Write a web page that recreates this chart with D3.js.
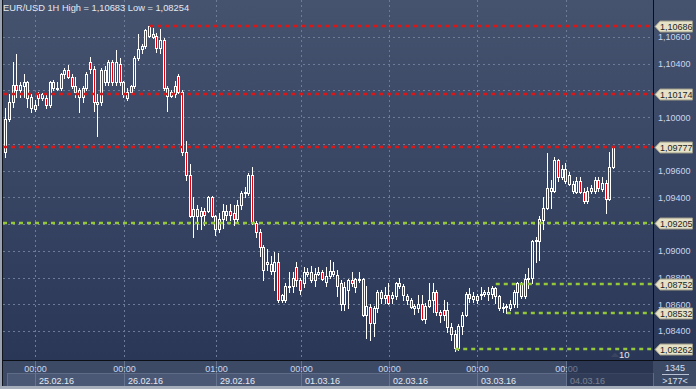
<!DOCTYPE html>
<html>
<head>
<meta charset="utf-8">
<script src="https://cdn.jsdelivr.net/npm/d3@7"></script>
<style>
  body { margin: 0; background: #2f3c5a; }
  svg { display: block; }
  text { font-family: "Liberation Sans", Arial, sans-serif; }
</style>
</head>
<body>
<div id="chart"></div>
<script>
// number of hourly slots visible on the screen
const slotCount = 177;

// EUR/USD 1H candles (slot 0 = 24.02 16:00)
const open = [
  1.0974,1.0999,1.1011,1.1024,1.1020,1.1023,1.1026,1.1015,1.1006,1.1017,
  1.1014,1.1014,1.1009,1.1026,1.1021,1.1022,1.1032,1.1035,1.1030,1.1023,
  1.1020,1.1015,1.1022,1.1041,1.1036,1.1010,1.1011,1.1035,1.1026,1.1041,
  1.1026,1.1040,1.1026,1.1014,1.1019,1.1023,1.1044,1.1051,1.1053,1.1068,
  1.1060,1.1061,1.1052,1.1058,1.1022,1.1019,1.1017,1.1031,1.1019,1.0974,
  1.0957,1.0926,1.0931,1.0926,1.0930,1.0930,1.0940,1.0926,1.0916,1.0924,
  1.0927,1.0930,1.0928,1.0924,1.0934,1.0943,1.0943,1.0957,1.0921,1.0914,
  1.0903,1.0890,1.0890,1.0885,1.0892,1.0863,1.0863,1.0873,1.0874,1.0888,
  1.0878,1.0876,1.0883,1.0884,1.0878,1.0883,1.0884,1.0877,1.0881,1.0885,
  1.0882,1.0876,1.0860,1.0871,1.0878,1.0873,1.0878,1.0879,1.0852,1.0858,
  1.0846,1.0857,1.0869,1.0865,1.0867,1.0865,1.0866,1.0876,1.0874,1.0866,
  1.0863,1.0857,1.0857,1.0860,1.0849,1.0859,1.0863,1.0869,1.0854,1.0856,
  1.0856,1.0843,1.0838,1.0827,1.0844,1.0852,1.0868,1.0864,1.0866,1.0867,
  1.0868,1.0868,1.0868,1.0872,1.0866,1.0857,1.0858,1.0857,1.0860,1.0869,
  1.0875,1.0866,1.0879,1.0880,1.0907,1.0907,1.0923,1.0932,1.0945,1.0945,
  1.0968,1.0955,1.0961,1.0957,1.0950,1.0944,1.0952,1.0944,1.0937,1.0945,
  1.0945,1.0953,1.0946,1.0951,1.0939,1.0963
];
const high = [
  1.1007,1.1017,1.1041,1.1047,1.1026,1.1032,1.1027,1.1017,1.1013,1.1019,
  1.1018,1.1017,1.1027,1.1028,1.1026,1.1033,1.1037,1.1039,1.1032,1.1030,
  1.1022,1.1023,1.1034,1.1045,1.1038,1.1017,1.1037,1.1038,1.1043,1.1043,
  1.1050,1.1044,1.1027,1.1022,1.1024,1.1046,1.1062,1.1055,1.1066,1.10683,
  1.1067,1.1063,1.1066,1.1059,1.1023,1.1020,1.1027,1.1032,1.1020,1.0982,
  1.0965,1.0940,1.0934,1.0933,1.0932,1.0941,1.0941,1.0927,1.0928,1.0935,
  1.0934,1.0935,1.0934,1.0938,1.0945,1.0948,1.0958,1.0963,1.0922,1.0916,
  1.0904,1.0901,1.0896,1.0899,1.0898,1.0868,1.0876,1.0884,1.0884,1.0892,
  1.0880,1.0888,1.0887,1.0889,1.0887,1.0888,1.0886,1.0888,1.0893,1.0892,
  1.0886,1.0878,1.0877,1.0879,1.0884,1.0880,1.0884,1.0880,1.0874,1.0860,
  1.0859,1.0871,1.0871,1.0873,1.0876,1.0869,1.0877,1.0880,1.0875,1.0868,
  1.0865,1.0860,1.0867,1.0867,1.0861,1.0876,1.0876,1.0871,1.0856,1.0863,
  1.0862,1.0846,1.0841,1.0845,1.0854,1.0869,1.0872,1.0869,1.0868,1.0873,
  1.0871,1.0873,1.0874,1.0873,1.0867,1.0861,1.0860,1.0863,1.0871,1.0877,
  1.0877,1.0883,1.0887,1.0908,1.0910,1.0926,1.0940,1.0973,1.0953,1.0970,
  1.0969,1.0964,1.0966,1.0959,1.0952,1.0955,1.0955,1.0947,1.0948,1.0949,
  1.0955,1.0955,1.0955,1.0953,1.0974,1.09785
];
const low = [
  1.0970,1.0997,1.1008,1.1015,1.1015,1.1015,1.1008,1.1004,1.1005,1.1009,
  1.1013,1.1007,1.1008,1.1020,1.1020,1.1020,1.1029,1.1029,1.1022,1.1015,
  1.1004,1.1011,1.1020,1.1033,1.1005,1.0986,1.1009,1.1024,1.1024,1.1024,
  1.1024,1.1024,1.1015,1.1013,1.1018,1.1022,1.1043,1.1048,1.1052,1.1060,
  1.1059,1.1049,1.1048,1.1020,1.1005,1.1015,1.1015,1.1018,1.0972,1.0953,
  1.0925,1.0910,1.0916,1.0916,1.0919,1.0929,1.0925,1.0912,1.0914,1.0917,
  1.0923,1.0923,1.0919,1.0922,1.0931,1.0940,1.0942,1.0920,1.0910,1.0896,
  1.0878,1.0886,1.0883,1.0871,1.0862,1.0862,1.0862,1.0869,1.0869,1.0874,
  1.0868,1.0873,1.0881,1.0877,1.0874,1.0882,1.0878,1.0874,1.0880,1.0881,
  1.0866,1.0856,1.0856,1.0857,1.0874,1.0869,1.0877,1.0851,1.0835,1.0833,
  1.0836,1.0854,1.0861,1.0861,1.0860,1.0861,1.0864,1.0872,1.0863,1.0860,
  1.0857,1.0853,1.0854,1.0848,1.0846,1.0858,1.0854,1.0852,1.0847,1.0848,
  1.0839,1.0833,1.08254,1.0826,1.0838,1.0851,1.0862,1.0862,1.0861,1.0864,
  1.0866,1.0863,1.0865,1.0861,1.0856,1.0854,1.08532,1.0856,1.0858,1.0858,
  1.0865,1.0865,1.0872,1.0876,1.0892,1.0893,1.0916,1.0931,1.0932,1.0944,
  1.0952,1.0954,1.0951,1.0949,1.0943,1.0943,1.0943,1.0936,1.0936,1.0943,
  1.0943,1.0945,1.0945,1.0928,1.0938,1.0962
];
const close = [
  1.0999,1.1011,1.1024,1.1020,1.1024,1.1026,1.1014,1.1007,1.1009,1.1014,
  1.1017,1.1009,1.1026,1.1022,1.1022,1.1032,1.1035,1.1030,1.1023,1.1019,
  1.1015,1.1022,1.1032,1.1036,1.1011,1.1011,1.1035,1.1026,1.1041,1.1026,
  1.1041,1.1026,1.1017,1.1019,1.1023,1.1044,1.1051,1.1053,1.1065,1.1061,
  1.1062,1.1052,1.1058,1.1022,1.1016,1.1016,1.1023,1.1019,1.0974,1.0957,
  1.0926,1.0931,1.0926,1.0930,1.0927,1.0940,1.0926,1.0916,1.0924,1.0930,
  1.0930,1.0927,1.0924,1.0934,1.0943,1.0944,1.0957,1.0921,1.0914,1.0903,
  1.0886,1.0892,1.0885,1.0892,1.0863,1.0867,1.0874,1.0874,1.0880,1.0878,
  1.0871,1.0884,1.0884,1.0878,1.0883,1.0884,1.0879,1.0881,1.0885,1.0883,
  1.0874,1.0860,1.0873,1.0878,1.0876,1.0879,1.0879,1.0852,1.0859,1.0846,
  1.0857,1.0869,1.0865,1.0867,1.0861,1.0867,1.0876,1.0874,1.0867,1.0863,
  1.0858,1.0859,1.0860,1.0849,1.0859,1.0863,1.0869,1.0854,1.0852,1.0852,
  1.0843,1.0838,1.0827,1.0844,1.0852,1.0868,1.0865,1.0866,1.0863,1.0868,
  1.0869,1.0869,1.0872,1.0866,1.0857,1.0858,1.0859,1.0860,1.0869,1.0876,
  1.0866,1.0879,1.0880,1.0907,1.0908,1.0924,1.0932,1.0947,1.0947,1.0968,
  1.0955,1.0961,1.0952,1.0950,1.0945,1.0952,1.0944,1.0937,1.0945,1.0947,
  1.0953,1.0947,1.0951,1.0939,1.0963,1.09777
];

// price scale labels
const priceTicks = [1.084, 1.086, 1.088, 1.090, 1.092, 1.094, 1.096, 1.098, 1.100, 1.102, 1.104, 1.106];

// time axis: slot of each day start, its time and date
const daySlots = [8, 32, 57, 80, 104, 128, 152];
const dayTimes = ["00:00", "00:00", "01:00", "00:00", "00:00", "00:00", "00:00"];
const dayDates = ["25.02.16", "26.02.16", "29.02.16", "01.03.16", "02.03.16", "03.03.16", "04.03.16"];

// support / resistance levels, and the slot where each one starts (null = whole chart)
const levelValues = [1.10686, 1.10174, 1.09777, 1.09205, 1.08752, 1.08532, 1.08262];
const levelFrom = [39, null, null, null, 133, 136, 122];
const levelKind = ["resistance", "resistance", "resistance", "support", "support", "support", "support"];

const titleText = "EUR/USD 1H High = 1,10683 Low = 1,08254";
const clockText = "1345";
const countText = ">177<";
const markerText = "10";

const width = 696;
const height = 389;
const plotLeft = 3;
const plotRight = 653;
const plotBottom = 360;

const comma = (v) => d3.format(".5f")(v).replace(".", ",");

const svg = d3.select('#chart')
  .append('svg')
  .attr('width', width)
  .attr('height', height);

const defs = svg.append('defs');
const grad = defs.append('linearGradient')
  .attr('id', 'bg')
  .attr('gradientUnits', 'userSpaceOnUse')
  .attr('x1', 0).attr('y1', 0).attr('x2', 0).attr('y2', plotBottom);
grad.append('stop').attr('offset', 0).attr('stop-color', '#46536f');
grad.append('stop').attr('offset', 1).attr('stop-color', '#2a3757');

defs.append('clipPath').attr('id', 'plotClip')
  .append('rect')
  .attr('x', plotLeft).attr('y', 0)
  .attr('width', plotRight - plotLeft).attr('height', plotBottom);

// scales
const xScale = d3.scaleBand()
  .domain(d3.range(slotCount))
  .range([4, 656]);
const bw = xScale.bandwidth();
const cx = (i) => xScale(i) + bw / 2;

const yScale = d3.scaleLinear()
  .domain([1.08183, 1.10877])
  .range([plotBottom, 0]);

// background
svg.append('rect')
  .attr('width', width).attr('height', plotBottom)
  .attr('fill', 'url(#bg)');

// left frame strip
svg.append('rect').attr('x', 0).attr('y', 0).attr('width', 2).attr('height', height).attr('fill', '#9aa2b1');
svg.append('rect').attr('x', 2).attr('y', 0).attr('width', 1).attr('height', height).attr('fill', '#10141c');

const plot = svg.append('g').attr('clip-path', 'url(#plotClip)');

// horizontal grid
plot.selectAll('line.hgrid')
  .data(priceTicks)
  .enter()
  .append('line')
    .attr('class', 'hgrid')
    .attr('x1', plotLeft).attr('x2', plotRight)
    .attr('y1', (d) => Math.round(yScale(d)) + 0.5)
    .attr('y2', (d) => Math.round(yScale(d)) + 0.5)
    .attr('stroke', '#6c7b98')
    .attr('stroke-dasharray', '2,3');

// vertical grid
plot.selectAll('line.vgrid')
  .data(daySlots)
  .enter()
  .append('line')
    .attr('class', 'vgrid')
    .attr('x1', (d) => Math.round(cx(d)) + 0.5)
    .attr('x2', (d) => Math.round(cx(d)) + 0.5)
    .attr('y1', 0).attr('y2', plotBottom)
    .attr('stroke', '#6c7b98')
    .attr('stroke-dasharray', '2,3');

// candles
const candles = d3.range(open.length).map((i) => ({
  i: i, o: open[i], h: high[i], l: low[i], c: close[i]
}));

const cg = plot.append('g');
candles.forEach((d) => {
  const left = Math.round(cx(d.i) - 1.5);
  const wx = left + 1.5;
  const top = Math.round(yScale(Math.max(d.o, d.c)));
  const bot = Math.round(yScale(Math.min(d.o, d.c)));
  const yh = Math.round(yScale(d.h));
  const yl = Math.round(yScale(d.l));
  // wick above and below the body
  if (yh < top) {
    cg.append('line').attr('x1', wx).attr('x2', wx).attr('y1', yh).attr('y2', top)
      .attr('stroke', '#ffffff').attr('stroke-width', 1);
  }
  if (yl > bot) {
    cg.append('line').attr('x1', wx).attr('x2', wx).attr('y1', bot).attr('y2', yl + 1)
      .attr('stroke', '#ffffff').attr('stroke-width', 1);
  }
  if (bot - top < 1) {
    cg.append('line').attr('x1', left).attr('x2', left + 3)
      .attr('y1', top + 0.5).attr('y2', top + 0.5)
      .attr('stroke', '#ffffff').attr('stroke-width', 1);
  } else {
    cg.append('rect')
      .attr('x', left + 0.5).attr('y', top + 0.5)
      .attr('width', 2).attr('height', bot - top)
      .attr('fill', d.c < d.o ? '#e8000b' : 'none')
      .attr('stroke', '#ffffff').attr('stroke-width', 1);
  }
});

// level lines
const levels = levelValues.map((v, k) => ({ v: v, from: levelFrom[k], kind: levelKind[k] }));
const levelColour = (kind) => kind === 'resistance' ? '#d81818' : '#94c83a';

plot.selectAll('line.level')
  .data(levels)
  .enter()
  .append('line')
    .attr('class', 'level')
    .attr('x1', (d) => d.from === null ? plotLeft : cx(d.from))
    .attr('x2', plotRight)
    .attr('y1', (d) => Math.round(yScale(d.v)))
    .attr('y2', (d) => Math.round(yScale(d.v)))
    .attr('stroke', (d) => levelColour(d.kind))
    .attr('stroke-width', 2.5)
    .attr('stroke-dasharray', '4,4');

// small marker at the bottom right of the plot
svg.append('path')
  .attr('d', 'M611,357 L615,352.5 L619,357 Z')
  .attr('fill', '#3b4560');
svg.append('text')
  .attr('x', 619).attr('y', 358)
  .attr('fill', '#e3e8f1')
  .style('font-size', '9.5px')
  .text(markerText);

// title
svg.append('text')
  .attr('x', 3).attr('y', 11)
  .attr('fill', '#e4e9f2')
  .style('font-size', '9.3px')
  .text(titleText);

// right price axis
svg.append('line')
  .attr('x1', plotRight + 0.5).attr('x2', plotRight + 0.5)
  .attr('y1', 0).attr('y2', height)
  .attr('stroke', '#0c0f16');

// a scale label sitting right under a level tag is covered by it, so it is left out
const tagYs = levelValues.map((v) => yScale(v));
const shownTicks = priceTicks.filter((t) => tagYs.every((ty) => Math.abs(yScale(t) - ty) > 6));

const axis = svg.append('g')
  .attr('transform', `translate(${plotRight + 1}, 0)`)
  .call(d3.axisRight(yScale).tickValues(shownTicks).tickSize(0).tickPadding(4).tickFormat(comma));
axis.select('.domain').remove();
axis.selectAll('text')
  .attr('fill', '#c9d7ef')
  .style('font-size', '9px')
  .style('font-family', '"Liberation Sans", Arial, sans-serif');

// level labels
const tags = svg.selectAll('g.tag')
  .data(levels)
  .enter()
  .append('g')
    .attr('class', 'tag')
    .attr('transform', (d) => `translate(0, ${Math.round(yScale(d.v)) + 0.5})`);
tags.append('path')
  .attr('d', 'M655,0 L660,-5.5 L692.5,-5.5 L692.5,5.5 L660,5.5 Z')
  .attr('fill', '#e6e2c8')
  .attr('stroke', '#9c9a86');
tags.append('text')
  .attr('x', 660).attr('y', 3.5)
  .attr('fill', '#1c1e24')
  .style('font-size', '9px')
  .text((d) => comma(d.v));

// time axis panel
svg.append('rect')
  .attr('x', plotLeft).attr('y', plotBottom)
  .attr('width', width - plotLeft).attr('height', height - plotBottom)
  .attr('fill', '#3d4a66');

const boxEdges = [7].concat(daySlots.map((s) => Math.round(cx(s)))).concat([plotRight]);
for (let k = 0; k < boxEdges.length - 1; k++) {
  svg.append('rect')
    .attr('x', boxEdges[k] + 0.5).attr('y', 373.5)
    .attr('width', boxEdges[k + 1] - boxEdges[k]).attr('height', 13)
    .attr('fill', '#4a5876')
    .attr('stroke', '#5f6c88');
}

svg.selectAll('line.tsep')
  .data(daySlots)
  .enter()
  .append('line')
    .attr('class', 'tsep')
    .attr('x1', (d) => Math.round(cx(d)) + 0.5)
    .attr('x2', (d) => Math.round(cx(d)) + 0.5)
    .attr('y1', plotBottom).attr('y2', 387)
    .attr('stroke', '#66738f');

svg.selectAll('text.ttime')
  .data(daySlots)
  .enter()
  .append('text')
    .attr('class', 'ttime')
    .attr('x', (d) => Math.round(cx(d)) + 0.5)
    .attr('y', 372)
    .attr('text-anchor', 'middle')
    .attr('fill', '#c9d7ef')
    .style('font-size', '9px')
    .text((d, k) => dayTimes[k]);

svg.selectAll('text.tdate')
  .data(daySlots)
  .enter()
  .append('text')
    .attr('class', 'tdate')
    .attr('x', (d) => Math.round(cx(d)) + 4)
    .attr('y', 383.5)
    .attr('fill', '#e3e8f1')
    .style('font-size', '9px')
    .text((d, k) => dayDates[k]);

// the last (current) day is shown dimmed
const lastX = Math.round(cx(daySlots[daySlots.length - 1])) + 1;
svg.append('rect')
  .attr('x', lastX).attr('y', plotBottom + 1)
  .attr('width', plotRight - lastX).attr('height', 26)
  .attr('fill', '#1c2740').attr('opacity', 0.55);

// separator between plot and time axis
svg.append('line')
  .attr('x1', plotLeft).attr('x2', width)
  .attr('y1', plotBottom + 0.5).attr('y2', plotBottom + 0.5)
  .attr('stroke', '#0c0f16');

// bottom right corner box
svg.append('text')
  .attr('x', 675).attr('y', 371)
  .attr('text-anchor', 'middle')
  .attr('fill', '#d6e0f0')
  .style('font-size', '9px')
  .text(clockText);
svg.append('line')
  .attr('x1', 662).attr('x2', 689)
  .attr('y1', 374.5).attr('y2', 374.5)
  .attr('stroke', '#b8c2d4');
svg.append('text')
  .attr('x', 675).attr('y', 384)
  .attr('text-anchor', 'middle')
  .attr('fill', '#d6e0f0')
  .style('font-size', '9px')
  .text(countText);

// bottom frame
svg.append('rect')
  .attr('x', 0).attr('y', 386)
  .attr('width', width).attr('height', 3)
  .attr('fill', '#a7aebb');
</script>
</body>
</html>
